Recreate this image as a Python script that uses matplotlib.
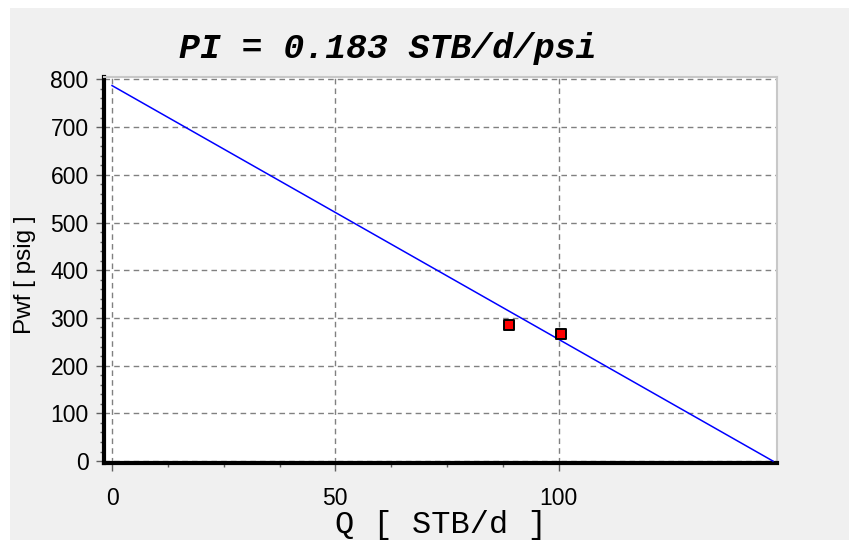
import matplotlib
matplotlib.use("Agg")
import matplotlib.pyplot as plt
from matplotlib.patches import Rectangle
from matplotlib.ticker import MultipleLocator, FixedLocator

# Data
ipr_q = [0, 148]
ipr_pwf = [787, 0]
test_q = [89, 100.5]
test_pwf = [286, 266]
x_ticks = [0, 50, 100]
y_ticks = [0, 100, 200, 300, 400, 500, 600, 700, 800]
title_text = "PI = 0.183 STB/d/psi"
xlabel_text = "Q [ STB/d ]"
ylabel_text = "Pwf [ psig ]"

W, H = 849, 542
fig = plt.figure(figsize=(W / 100, H / 100), dpi=100)
fig.patch.set_facecolor("white")
fig.patches.append(Rectangle((10 / W, 2 / H), 1 - 10 / W, 1 - 10 / H, transform=fig.transFigure,
                             facecolor="#f0f0f0", edgecolor="none", zorder=-10))

l, r, t, b = 104, 777, 77, 463
ax = fig.add_axes([l / W, 1 - b / H, (r - l) / W, (b - t) / H])
ax.set_zorder(5)
ax.set_facecolor("white")

ax.plot(ipr_q, ipr_pwf, color="#0000ff", lw=1.1, zorder=3)
ax.scatter(test_q, test_pwf, marker="s", s=60, facecolor="#ff0000", edgecolor="black", linewidths=1.4, zorder=4)

ax.set_xlim(-1.8, 148.9)
ax.set_ylim(-4, 805)

ax.xaxis.set_major_locator(FixedLocator(x_ticks))
ax.xaxis.set_minor_locator(FixedLocator([12.5, 25, 37.5, 62.5, 75, 87.5]))
ax.yaxis.set_major_locator(FixedLocator(y_ticks))
ax.yaxis.set_minor_locator(MultipleLocator(20))

ax.grid(True, which="major", color="#808080", linestyle=(0, (4, 3)), linewidth=1.0)

for s in ["left", "bottom"]:
    ax.spines[s].set_linewidth(3)
    ax.spines[s].set_color("black")
for s in ["right", "top"]:
    ax.spines[s].set_linewidth(1.5)
    ax.spines[s].set_color("#c8c8c8")

ax.tick_params(axis="both", which="major", direction="out", length=6, width=1, color="#606060",
               labelsize=16.5, pad=5)
ax.tick_params(axis="both", which="minor", direction="out", length=3, width=1, color="#606060")
ax.tick_params(axis="x", which="major", pad=11)

for lab in ax.get_xticklabels() + ax.get_yticklabels():
    lab.set_fontfamily("Liberation Sans")

# title, axis labels positioned in pixel space
fig.text(388 / W, 1 - 58 / H, title_text, fontfamily="Liberation Mono", fontstyle="italic",
         fontweight="bold", fontsize=25, ha="center", va="baseline")
fig.text(441 / W, 1 - 533 / H, xlabel_text, fontfamily="Liberation Mono", fontsize=23,
         ha="center", va="baseline")
fig.text(25 / W, 1 - 275 / H, ylabel_text, fontfamily="Liberation Sans", fontsize=17.5,
         rotation=90, ha="center", va="center")

fig.savefig("out.png", dpi=100, facecolor=fig.get_facecolor())
